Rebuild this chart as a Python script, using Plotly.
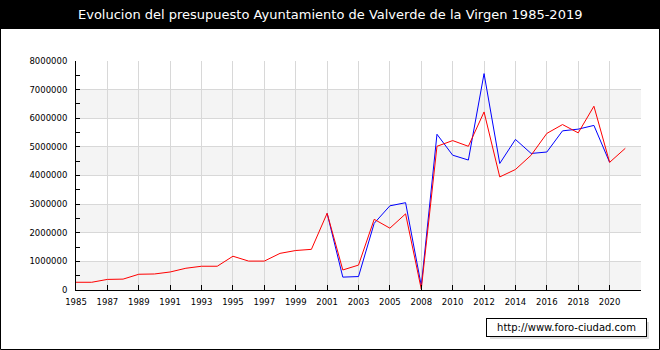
import plotly.graph_objects as go

# Tick labels as printed on the chart (one tick every two positions)
tick_labels = ["1985", "1987", "1989", "1991", "1993", "1995", "1997", "1999",
               "2001", "2003", "2005", "2008", "2010", "2012", "2014", "2016",
               "2018", "2020", ""]

# Series values (euros), one per position index
red_values = [270000, 270000, 370000, 380000, 550000, 560000, 630000, 760000,
              830000, 830000, 1180000, 1010000, 1010000, 1280000, 1380000,
              1420000, 2680000, 700000, 870000, 2470000, 2160000, 2660000,
              30000, 5020000, 5220000, 5020000, 6220000, 3950000, 4210000,
              4710000, 5470000, 5780000, 5490000, 6420000, 4460000, 4950000]
blue_values = [None] * 16 + [2680000, 450000, 470000, 2330000, 2940000, 3050000,
                             150000, 5440000, 4710000, 4540000, 7560000, 4420000,
                             5260000, 4770000, 4820000, 5560000, 5620000, 5750000,
                             4460000]

positions = list(range(len(red_values)))
tick_positions = list(range(0, 2 * len(tick_labels), 2))

W, H = 660, 350
L, R, T, B = 76, 641, 61, 290  # plot area in pixels
pw, ph = R - L, B - T


def px(x):
    return (x - L) / pw


def py(y):
    return (B - y) / ph


fig = go.Figure()
fig.add_trace(go.Scatter(x=positions, y=blue_values, mode="lines",
                         line=dict(color="#0000ff", width=1), hoverinfo="skip"))
fig.add_trace(go.Scatter(x=positions, y=red_values, mode="lines",
                         line=dict(color="#ff0000", width=1), hoverinfo="skip"))

shapes = []
# alternating bands
for lo in [0, 2000000, 4000000, 6000000]:
    shapes.append(dict(type="rect", xref="paper", yref="y", x0=0, x1=1,
                       y0=lo, y1=lo + 1000000, fillcolor="#f4f4f4",
                       line=dict(width=0), layer="below"))
# title bar
shapes.append(dict(type="rect", xref="paper", yref="paper",
                   x0=px(0), x1=px(W), y0=py(29), y1=py(0),
                   fillcolor="#000000", line=dict(width=0), layer="below"))
# outer border
shapes.append(dict(type="rect", xref="paper", yref="paper",
                   x0=px(0.5), x1=px(W - 0.5), y0=py(H - 0.5), y1=py(0.5),
                   line=dict(color="#000000", width=1), layer="above"))
# watermark shadow
shapes.append(dict(type="rect", xref="paper", yref="paper",
                   x0=px(490), x1=px(649), y0=py(339), y1=py(322),
                   fillcolor="#dcdcdc", line=dict(width=0), layer="above"))

fig.update_layout(
    width=W, height=H,
    margin=dict(l=L, r=W - R, t=T, b=H - B),
    paper_bgcolor="#ffffff", plot_bgcolor="#ffffff",
    showlegend=False,
    shapes=shapes,
    font=dict(family="DejaVu Sans", color="#000000", size=9),
    annotations=[
        dict(text="Evolucion del presupuesto Ayuntamiento de Valverde de la Virgen 1985-2019",
             xref="paper", yref="paper", x=px(330), y=py(14.5),
             xanchor="center", yanchor="middle", showarrow=False,
             font=dict(family="DejaVu Sans", size=13, color="#ffffff")),
        dict(text="http://www.foro-ciudad.com",
             xref="paper", yref="paper", x=px(566), y=py(327),
             xanchor="center", yanchor="middle", showarrow=False,
             width=157, height=15, borderpad=1,
             bgcolor="#ffffff", bordercolor="#000000", borderwidth=1,
             font=dict(family="DejaVu Sans", size=10, color="#000000")),
    ],
)

fig.update_xaxes(
    range=[0, 36], tickmode="array", tickvals=tick_positions, ticktext=tick_labels,
    showgrid=True, gridcolor="#d8d8d8", gridwidth=1,
    showline=True, linecolor="#000000", linewidth=1,
    ticks="inside", ticklen=5, tickcolor="#000000",
    ticklabelstandoff=4, zeroline=False,
    tickfont=dict(family="DejaVu Sans", size=8.5),
)
fig.update_yaxes(
    range=[0, 8000000], tickmode="linear", tick0=0, dtick=1000000, tickformat="d",
    showgrid=True, gridcolor="#d8d8d8", gridwidth=1,
    showline=True, linecolor="#000000", linewidth=1,
    ticks="inside", ticklen=4, tickcolor="#000000",
    minor=dict(dtick=500000, ticks="inside", ticklen=4, tickcolor="#000000", showgrid=False),
    ticklabelstandoff=6, zeroline=False,
    tickfont=dict(family="DejaVu Sans", size=8.5),
)

fig.write_html("out.html")
